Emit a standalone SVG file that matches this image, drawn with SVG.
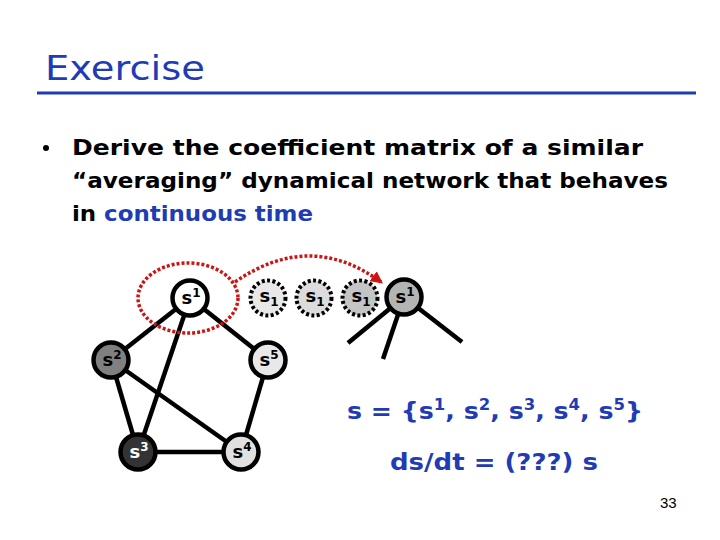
<svg xmlns="http://www.w3.org/2000/svg" width="720" height="540" viewBox="0 0 720 540">
<style>
.body{font-family:"DejaVu Sans","Liberation Sans",sans-serif;font-weight:bold;font-size:21px;fill:#000}
.blue{fill:#1f3cb4}
.edge{stroke:#000;stroke-width:4.5;fill:none}
.node{stroke:#000;stroke-width:4.5}
.dnode{stroke:#000;stroke-width:4;stroke-dasharray:3 2.4}
.lbl{font-family:"DejaVu Sans","Liberation Sans",sans-serif;font-weight:bold;font-size:18px;text-anchor:middle}
.sup{font-size:12px}
.form{font-family:"DejaVu Sans","Liberation Sans",sans-serif;font-weight:bold;font-size:23px;fill:#1f3cb4}
</style>
<defs>
<marker id="ah" viewBox="0 0 10 10" refX="8" refY="5" markerWidth="3.5" markerHeight="3.5" orient="auto" markerUnits="strokeWidth">
<path d="M0,0 L10,5 L0,10 z" fill="#cc1414"/>
</marker>
</defs>
<rect width="720" height="540" fill="#fff"/>
<text x="45" y="80" font-family="DejaVu Sans, Liberation Sans, sans-serif" font-size="33" fill="#1f3cb4" textLength="160" lengthAdjust="spacingAndGlyphs">Exercise</text>
<rect x="37" y="91.5" width="659" height="3" fill="#1f3cb4"/>
<circle cx="46" cy="148" r="3" fill="#000"/>
<text class="body" x="72" y="155" textLength="571" lengthAdjust="spacingAndGlyphs">Derive the coefficient matrix of a similar</text>
<text class="body" x="72" y="188" textLength="596" lengthAdjust="spacingAndGlyphs">“averaging” dynamical network that behaves</text>
<text class="body" x="72" y="221" textLength="241" lengthAdjust="spacingAndGlyphs">in <tspan class="blue">continuous time</tspan></text>
<g id="connectors">
<line class="edge" x1="190" y1="298" x2="111" y2="360"/>
<line class="edge" x1="190" y1="298" x2="138" y2="452"/>
<line class="edge" x1="190" y1="298" x2="268" y2="360"/>
<line class="edge" x1="111" y1="360" x2="138" y2="452"/>
<line class="edge" x1="111" y1="360" x2="241" y2="452"/>
<line class="edge" x1="268" y1="360" x2="241" y2="452"/>
<line class="edge" x1="138" y1="452" x2="241" y2="452"/>
<line class="edge" x1="404" y1="297" x2="348" y2="343"/>
<line class="edge" x1="404" y1="297" x2="383" y2="359"/>
<line class="edge" x1="404" y1="297" x2="462" y2="342"/>
</g>
<g id="n1"><circle class="node" cx="190" cy="298" r="17.5" fill="#fff"/><text class="lbl" x="191" y="304">s<tspan class="sup" dy="-7">1</tspan></text></g>
<g id="n2"><circle class="node" cx="111" cy="360" r="17.5" fill="#808080"/><text class="lbl" x="112" y="366">s<tspan class="sup" dy="-7">2</tspan></text></g>
<g id="n5"><circle class="node" cx="268" cy="360" r="17.5" fill="#e8e8e8"/><text class="lbl" x="269" y="366">s<tspan class="sup" dy="-7">5</tspan></text></g>
<g id="n3"><circle class="node" cx="138" cy="452" r="17.5" fill="#333"/><text class="lbl" x="139" y="458" fill="#fff">s<tspan class="sup" dy="-7">3</tspan></text></g>
<g id="n4"><circle class="node" cx="241" cy="452" r="17.5" fill="#e0e0e0"/><text class="lbl" x="242" y="458">s<tspan class="sup" dy="-7">4</tspan></text></g>
<g id="d1"><circle class="dnode" cx="268" cy="298" r="17.5" fill="#e8e8e8"/><text class="lbl" x="269" y="302">s<tspan class="sup" dy="4">1</tspan></text></g>
<g id="d2"><circle class="dnode" cx="314" cy="298" r="17.5" fill="#dcdcdc"/><text class="lbl" x="315" y="302">s<tspan class="sup" dy="4">1</tspan></text></g>
<g id="d3"><circle class="dnode" cx="360" cy="298" r="17.5" fill="#c4c4c4"/><text class="lbl" x="361" y="302">s<tspan class="sup" dy="4">1</tspan></text></g>
<g id="n1b"><circle class="node" cx="404" cy="297" r="17.5" fill="#b4b4b4"/><text class="lbl" x="405" y="303">s<tspan class="sup" dy="-7">1</tspan></text></g>
<g id="highlight">
<ellipse cx="188" cy="298" rx="50" ry="35" fill="none" stroke="#cc1414" stroke-width="3.5" stroke-dasharray="3 2"/>
<path d="M235,282 Q310,230 381,282" fill="none" stroke="#cc1414" stroke-width="3.5" stroke-dasharray="3 2" marker-end="url(#ah)"/>
</g>
<text class="form" x="347" y="419" textLength="296" lengthAdjust="spacingAndGlyphs">s = {s<tspan font-size="15" dy="-9">1</tspan><tspan dy="9">, s</tspan><tspan font-size="15" dy="-9">2</tspan><tspan dy="9">, s</tspan><tspan font-size="15" dy="-9">3</tspan><tspan dy="9">, s</tspan><tspan font-size="15" dy="-9">4</tspan><tspan dy="9">, s</tspan><tspan font-size="15" dy="-9">5</tspan><tspan dy="9">}</tspan></text>
<text class="form" x="390" y="470" textLength="208" lengthAdjust="spacingAndGlyphs">ds/dt = (???) s</text>
<text x="660" y="508" font-family="Liberation Sans, Arial, sans-serif" font-size="15" fill="#000">33</text>
</svg>
